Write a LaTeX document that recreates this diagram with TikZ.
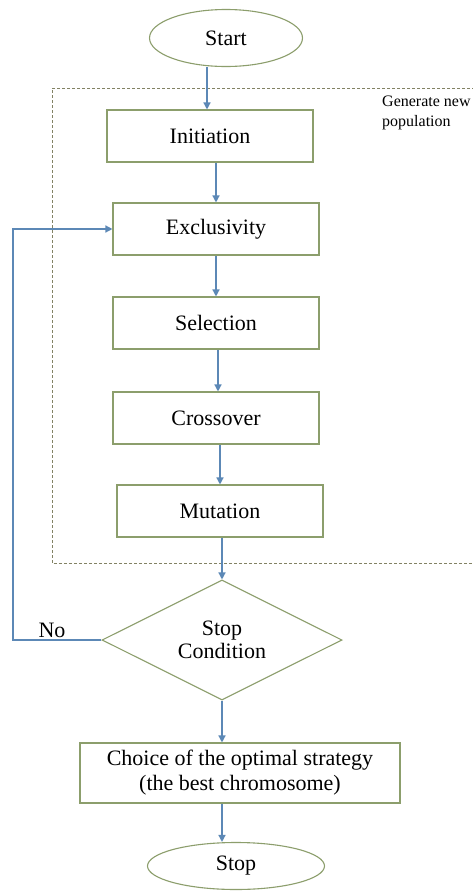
\documentclass[tikz,border=0pt]{standalone}
\usepackage{fontspec}
\setmainfont{Liberation Serif}
\usetikzlibrary{shapes.geometric,arrows.meta}
\definecolor{boxc}{RGB}{140,158,108}
\definecolor{arrc}{RGB}{92,136,182}
\definecolor{dashc}{RGB}{130,130,100}
\tikzset{
  box/.style={draw=boxc, line width=1.1pt, rectangle, minimum height=52pt, inner sep=0pt, font=\fontsize{22}{25}\selectfont},
  term/.style={draw=boxc, line width=1.1pt, ellipse, inner sep=0pt, font=\fontsize{22}{25}\selectfont},
  dec/.style={draw=boxc, line width=1.1pt, diamond, inner sep=0pt, align=center, font=\fontsize{22}{25}\selectfont},
  arr/.style={draw=arrc, line width=1.4pt, -{Triangle[length=7pt,width=7pt]}},
  lbl/.style={font=\fontsize{22}{25}\selectfont},
}
\begin{document}
\begin{tikzpicture}[x=1pt,y=-1pt]
\useasboundingbox (0,0) rectangle (472,892);
\fill[white] (0,0) rectangle (472,892);
% dashed group
\draw[dashc, line width=0.9pt, dash pattern=on 3pt off 2pt] (480,88) -- (52,88) -- (52,563) -- (480,563);
\node[anchor=north west, align=left, inner sep=0pt, font=\fontsize{16}{20}\selectfont] (gen) at (382,96) {Generate new\\population};

\node[term, minimum width=153pt, minimum height=57pt] (start) at (226,38) {Start};
\node[box, minimum width=206pt] (init) at (210,136) {Initiation};
\node[box, minimum width=206pt] (excl) at (216,229) {Exclusivity};
\node[box, minimum width=206pt] (sel) at (216,323) {Selection};
\node[box, minimum width=206pt] (cross) at (216,418) {Crossover};
\node[box, minimum width=206pt] (mut) at (220,511) {Mutation};
\node[dec, minimum width=240pt, minimum height=120pt, aspect=2] (cond) at (222,640) {Stop\\[-2pt]Condition};
\node[box, minimum width=320pt, minimum height=60pt, align=center] (choice) at (240,773) {Choice of the optimal strategy\\(the best chromosome)};
\node[term, minimum width=177pt, minimum height=47pt] (stop) at (236,866) {Stop};

\coordinate (a1) at (207,0);
\coordinate (a4) at (218,0);
\draw[arr] (start.south -| a1) -- (init.north -| a1);
\draw[arr] (init.south -| excl.north) -- (excl.north);
\draw[arr] (excl.south) -- (sel.north);
\draw[arr] (sel.south -| a4) -- (cross.north -| a4);
\draw[arr] (cross.south -| mut.north) -- (mut.north);
\draw[arr] (mut.south -| cond.north) -- (cond.north);
\draw[arr] (cond.south) -- (cond.south |- choice.north);
\draw[arr] (choice.south -| cond.south) -- (stop.north -| cond.south);

\coordinate (lp) at (13,0);
\draw[arr] (cond.west) -- (cond.west -| lp) -- (excl.west -| lp) -- (excl.west);
\node[lbl, anchor=south] (no) at (52,641) {No};
\end{tikzpicture}
\end{document}
